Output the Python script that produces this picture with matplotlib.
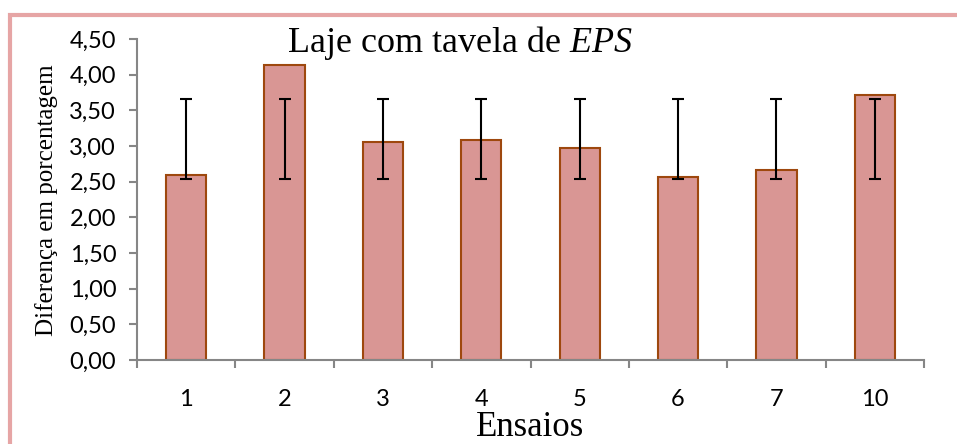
import matplotlib
matplotlib.use('Agg')
import matplotlib.pyplot as plt
from matplotlib.patches import Rectangle

plt.rcParams['mathtext.fontset'] = 'custom'
plt.rcParams['mathtext.rm'] = 'Liberation Serif'
plt.rcParams['mathtext.it'] = 'Liberation Serif:italic'

# chart data
ensaios = ['1', '2', '3', '4', '5', '6', '7', '10']
diferenca = [2.59, 4.14, 3.06, 3.09, 2.97, 2.57, 2.67, 3.72]
media = 3.10
desvio = 0.56
yticks = [0.0, 0.5, 1.0, 1.5, 2.0, 2.5, 3.0, 3.5, 4.0, 4.5]

fig = plt.figure(figsize=(9.57, 4.44), dpi=100)
ax = fig.add_axes([137/957, 1 - 360/444, (924-137)/957, (360-39)/444])

x = range(len(ensaios))
ax.bar(x, diferenca, width=0.41, color='#D99694', edgecolor='#9E480E', linewidth=1.5, zorder=2)
ax.errorbar(x, [media]*len(ensaios), yerr=desvio, fmt='none', ecolor='black',
            elinewidth=1.5, capsize=4.5, capthick=1.5, zorder=3)

ax.set_xlim(-0.5, len(ensaios) - 0.5)
ax.set_ylim(0, 4.5)
ax.set_yticks(yticks)
ax.yaxis.set_major_formatter(plt.FuncFormatter(lambda v, p: ('%.2f' % v).replace('.', ',')))
ax.set_xticks(list(x))
ax.set_xticklabels(ensaios)
ax.set_xticks([i - 0.5 for i in range(len(ensaios) + 1)], minor=True)
ax.tick_params(axis='x', which='major', length=0, pad=21)
ax.tick_params(axis='x', which='minor', length=6, width=1.5, color='#868686')
ax.tick_params(axis='y', length=6, width=1.5, color='#868686', pad=9)
for lab in ax.get_xticklabels() + ax.get_yticklabels():
    lab.set_fontfamily('Lato')
    lab.set_fontsize(17)

for s in ['top', 'right']:
    ax.spines[s].set_visible(False)
for s in ['left', 'bottom']:
    ax.spines[s].set_color('#868686')
    ax.spines[s].set_linewidth(1.5)

fig.text(47/957, 1 - 200/444, 'Diferença em porcentagem', rotation=90, ha='center', va='center',
         fontfamily='Liberation Serif', fontsize=18)
fig.text(530/957, 1 - 436/444, 'Ensaios', ha='center', va='baseline',
         fontfamily='Liberation Serif', fontsize=25)
fig.text(460/957, 1 - 52/444, 'Laje com tavela de $\\mathit{EPS}$', ha='center', va='baseline',
         fontfamily='Liberation Serif', fontsize=26)

# pink frame
fig.patches.append(Rectangle((10/957, -0.1), 1.1, 1 - 15/444 + 0.1, transform=fig.transFigure,
                             fill=False, edgecolor='#E6A5A5', linewidth=3))

fig.savefig('out.png', dpi=100)
